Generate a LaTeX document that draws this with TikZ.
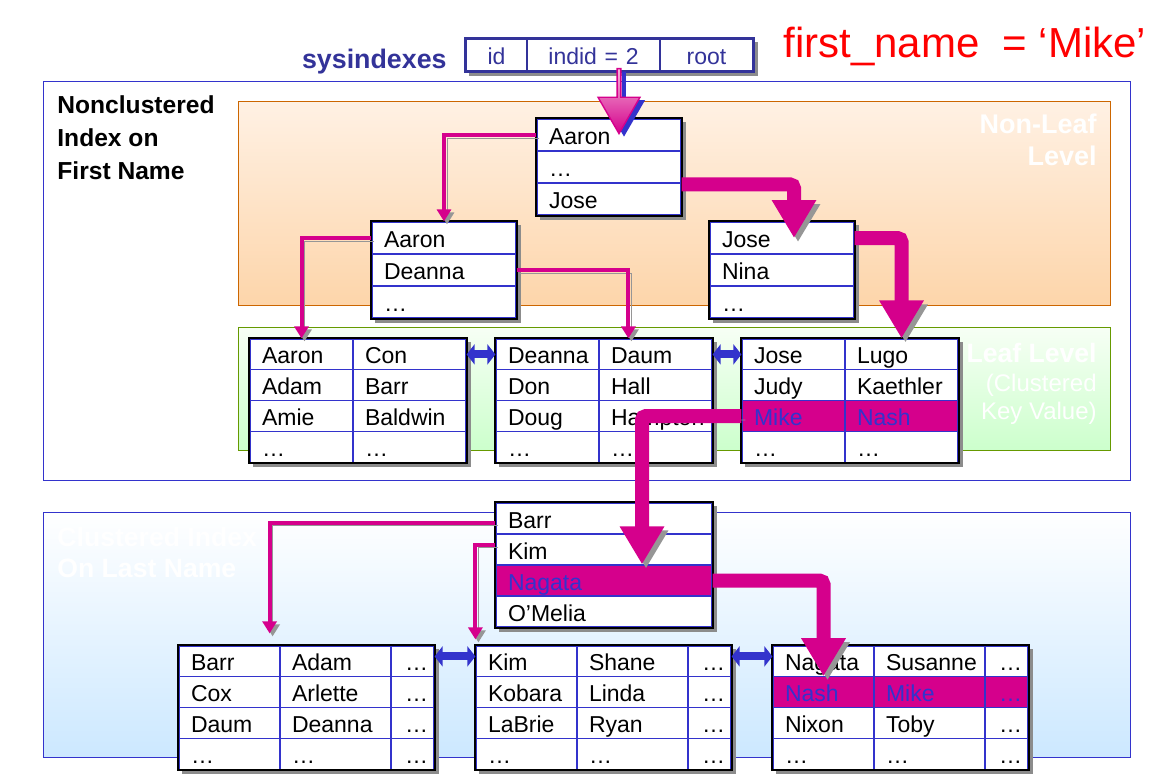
\documentclass[tikz,border=0pt]{standalone}
\usepackage{fontspec}
\setmainfont{Liberation Sans}
\usetikzlibrary{arrows.meta, matrix, shadows, shapes.arrows}

\definecolor{rimblue}{RGB}{51,51,204}
\definecolor{inkblue}{RGB}{51,51,153}
\definecolor{pinkline}{RGB}{213,0,140}
\definecolor{ptrtop}{RGB}{244,180,216}
\definecolor{shadegray}{RGB}{150,150,150}
\definecolor{nonleaftop}{RGB}{255,241,228}
\definecolor{nonleafbot}{RGB}{253,213,170}
\definecolor{nonleafrim}{RGB}{204,102,0}
\definecolor{leaftop}{RGB}{247,255,245}
\definecolor{leafbot}{RGB}{204,255,204}
\definecolor{leafrim}{RGB}{102,153,0}
\definecolor{lowbot}{RGB}{204,232,255}

\tikzset{
  cell/.style={draw=rimblue, line width=0.6pt, minimum height=15.4pt,
    text height=11pt, text depth=1.5pt, inner xsep=6pt, align=left,
    font=\fontsize{11.5}{13}\selectfont},
  tbl/.style={matrix of nodes, anchor=north west, inner sep=0pt,
    column sep=-0.6pt, row sep=-0.6pt, fill=white, nodes={cell},
    drop shadow={shadow xshift=2pt, shadow yshift=-2pt, fill=black!45, opacity=1}},
  pair/.style={column 1/.style={nodes={text width=39.5pt}},
    column 2/.style={nodes={text width=44.5pt}}},
  triple/.style={column 1/.style={nodes={text width=38.5pt}},
    column 2/.style={nodes={text width=43.5pt}},
    column 3/.style={nodes={text width=15.5pt, inner xsep=3pt, align=right}}},
  hl/.style={fill=pinkline, text=rimblue},
  rim/.style={draw=black, line width=0.8pt},
  link/.style={draw=pinkline, line width=2pt, -{Triangle[width=7pt, length=6pt]},
    preaction={draw=shadegray, transform canvas={shift={(1.5pt,-1.5pt)}}}},
  biglink/.style={draw=pinkline, line width=7pt, rounded corners=2pt,
    -{Triangle[width=21pt, length=19pt]},
    preaction={draw=shadegray, transform canvas={shift={(2pt,-2pt)}}}},
  dbl/.style={draw=rimblue, line width=4pt,
    {Triangle[width=10pt, length=4pt]}-{Triangle[width=10pt, length=4pt]}},
  ptr/.style={single arrow, shape border rotate=270, draw=pinkline, line width=0.7pt,
    top color=ptrtop, bottom color=pinkline, minimum height=32.5pt, minimum width=21pt,
    single arrow head extend=3.5pt, single arrow tip angle=60, inner sep=0pt,
    drop shadow={shadow xshift=2.5pt, shadow yshift=-1.5pt, fill=rimblue, opacity=1}},
  tag/.style={inner sep=0pt}
}

\begin{document}
\begin{tikzpicture}[x=0.5pt, y=-0.5pt]
  \path[use as bounding box, fill=white] (0,0) rectangle (1165,777);

  \draw[rimblue, fill=white] (43,81) rectangle (1130,480);
  \shade[top color=nonleaftop, bottom color=nonleafbot, draw=nonleafrim] (238,101) rectangle (1110,305);
  \shade[top color=leaftop, bottom color=leafbot, draw=leafrim] (238,327) rectangle (1110,450);
  \shade[top color=white, bottom color=lowbot, draw=rimblue] (43,512) rectangle (1130,757);

  \node[tag, anchor=base east, text=inkblue, font=\bfseries\fontsize{13.4}{16}\selectfont] (sysname) at (447,68) {sysindexes};
  \node[tag, anchor=base west, text=red, font=\fontsize{21}{25}\selectfont] (query) at (783,57) {first\_name\ \ = ‘Mike’};
  \node[tag, anchor=north west, align=left, font=\bfseries\fontsize{12.3}{16.5}\selectfont] (nctitle) at (57,95) {Nonclustered\\Index on\\First Name};
  \node[tag, anchor=north east, align=right, text=white, font=\bfseries\fontsize{13.5}{16}\selectfont] (nltitle) at (1097,114) {Non-Leaf\\Level};
  \node[tag, anchor=north east, align=right, text=white, font=\fontsize{12}{14.3}\selectfont] (lftitle) at (1097,343) {{\bfseries\fontsize{13.3}{14.3}\selectfont Leaf Level}\\(Clustered\\Key Value)};
  \node[tag, anchor=north west, align=left, text=white, font=\bfseries\fontsize{13.3}{15.5}\selectfont] (cltitle) at (57,527) {Clustered Index\\On Last Name};

  \matrix (sys) [tbl, nodes={minimum height=16pt, align=center, text=inkblue, draw=inkblue},
    column 1/.style={nodes={text width=18.5pt}}, column 2/.style={nodes={text width=54.5pt}},
    column 3/.style={nodes={text width=34.5pt}}] at (465,38) {id & indid = 2 & root\\};

  \matrix (root) [tbl, nodes={text width=60pt, minimum height=16pt}] at (536,118) {Aaron\\ …\\ Jose\\};
  \matrix (n1) [tbl, nodes={text width=60pt, minimum height=16pt}] at (371,221) {Aaron\\ Deanna\\ …\\};
  \matrix (n2) [tbl, nodes={text width=60pt, minimum height=16pt}] at (709,221) {Jose\\ Nina\\ …\\};

  \matrix (l1) [tbl, pair] at (249,338) {Aaron & Con\\ Adam & Barr\\ Amie & Baldwin\\ … & …\\};
  \matrix (l2) [tbl, pair] at (495,338) {Deanna & Daum\\ Don & Hall\\ Doug & Hampton\\ … & …\\};
  \matrix (l3) [tbl, pair] at (741,338) {Jose & Lugo\\ Judy & Kaethler\\ |[hl]| Mike & |[hl]| Nash\\ … & …\\};

  \matrix (m) [tbl, nodes={text width=96pt, minimum height=15.5pt}] at (495,502) {Barr\\ Kim\\ |[hl]| Nagata\\ O’Melia\\};

  \matrix (b1) [tbl, triple] at (178,645) {Barr & Adam & …\\ Cox & Arlette & …\\ Daum & Deanna & …\\ … & … & …\\};
  \matrix (b2) [tbl, triple] at (475,645) {Kim & Shane & …\\ Kobara & Linda & …\\ LaBrie & Ryan & …\\ … & … & …\\};
  \matrix (b3) [tbl, triple] at (772,645) {Nagata & Susanne & …\\ |[hl]| Nash & |[hl]| Mike & |[hl]| …\\ Nixon & Toby & …\\ … & … & …\\};

  \foreach \t in {root, n1, n2, l1, l2, l3, m, b1, b2, b3}
    \draw[rim] (\t.north west) rectangle (\t.south east);
  \draw[draw=inkblue, line width=0.8pt] (sys.north west) rectangle (sys.south east);

  \node[ptr, anchor=tip] (ptr) at ([xshift=5pt]root-1-1.center) {};

  \draw[dbl] (l1-1-2.east) -- (l2-1-1.west);
  \draw[dbl] (l2-1-2.east) -- (l3-1-1.west);
  \draw[dbl] ([yshift=2.5pt]b1-1-3.east) -- ([yshift=2.5pt]b2-1-1.west);
  \draw[dbl] ([yshift=2.5pt]b2-1-3.east) -- ([yshift=2.5pt]b3-1-1.west);

  \draw[link] (root-1-1.west) -| (n1-1-1.north);
  \draw[link] (n1-1-1.west) -| (l1-1-1.north);
  \draw[link] (n1-2-1.east) -| ([xshift=15pt]l2-1-2.north west);
  \draw[link] ([yshift=-2pt]m-1-1.west) -| ([shift={(-5.5pt,6pt)}]b1-1-1.north east);
  \draw[link] ([yshift=2.5pt]m-2-1.west) -| ([yshift=3pt]b2-1-1.north west);

  \draw[biglink] ([yshift=-1pt]root-3-1.north east) -| ([xshift=6pt]n2-1-1.center);
  \draw[biglink] (n2-1-1.east) -| (l3-1-2.north);
  \draw[biglink] (l3-3-1.west) -| ([xshift=19pt]m-3-1.north);
  \draw[biglink] (m-3-1.east) -| (b3-2-1.north);
\end{tikzpicture}
\end{document}
